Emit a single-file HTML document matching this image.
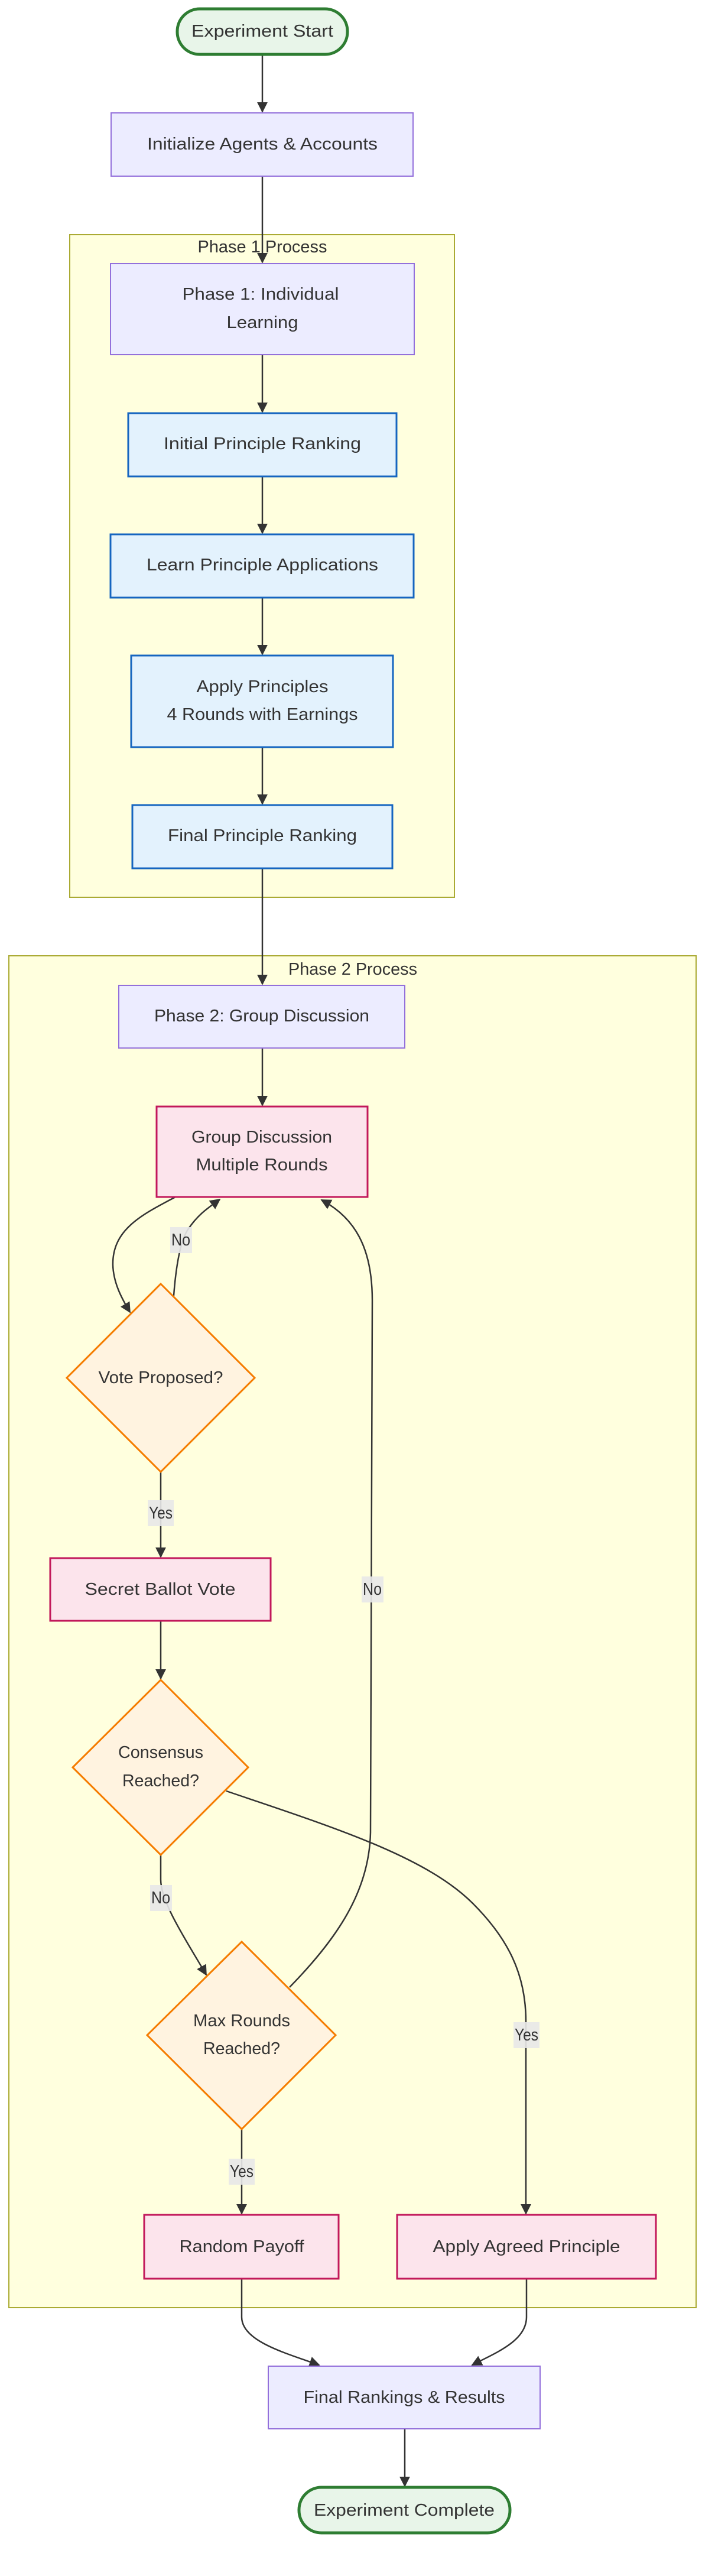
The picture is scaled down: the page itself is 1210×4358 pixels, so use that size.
<!DOCTYPE html>
<html><head><meta charset="utf-8"><style>
html,body{margin:0;padding:0;background:#fff;}
svg{display:block;}
text{font-family:"Liberation Sans",sans-serif;font-size:29px;fill:#333;text-anchor:middle;dominant-baseline:central;}
.e{fill:none;stroke:#333;stroke-width:2.5;}
.lb{fill:#e8e8e8;opacity:0.9;}
</style></head><body>
<svg width="1210" height="4358" viewBox="0 0 1210 4358" xmlns="http://www.w3.org/2000/svg">
<defs>
<marker id="b" viewBox="0 0 10 10" refX="9" refY="5" markerWidth="18" markerHeight="18" markerUnits="userSpaceOnUse" orient="auto">
<path d="M0,0 L10,5 L0,10 z" fill="#333"/></marker>
</defs>

<rect x="118" y="397" width="651" height="1121" fill="#ffffde" stroke="#aaaa33" stroke-width="2"/>
<text x="444" y="418" textLength="219" lengthAdjust="spacingAndGlyphs">Phase 1 Process</text>
<rect x="15" y="1617" width="1163" height="2287" fill="#ffffde" stroke="#aaaa33" stroke-width="2"/>
<text x="597" y="1640" textLength="218" lengthAdjust="spacingAndGlyphs">Phase 2 Process</text>

<g class="e">
<path d="M444,93 L444,189" marker-end="url(#b)"/>
<path d="M444,298 L444,444" marker-end="url(#b)"/>
<path d="M444,600 L444,697" marker-end="url(#b)"/>
<path d="M444,806 L444,902" marker-end="url(#b)"/>
<path d="M444,1011 L444,1107" marker-end="url(#b)"/>
<path d="M444,1264 L444,1360" marker-end="url(#b)"/>
<path d="M444,1469 L444,1665" marker-end="url(#b)"/>
<path d="M444,1773 L444,1870" marker-end="url(#b)"/>
<path d="M297,2025 C240,2055 190,2080 191,2140 C192,2170 205,2195 220,2220" marker-end="url(#b)"/>
<path d="M294,2192 C298,2140 305,2100 318,2080 C335,2055 350,2045 372,2029" marker-end="url(#b)"/>
<path d="M272,2490 L272,2634" marker-end="url(#b)"/>
<path d="M272,2742 L272,2840" marker-end="url(#b)"/>
<path d="M272,3138 L272,3180 C272,3220 320,3290 349,3341" marker-end="url(#b)"/>
<path d="M490,3362 C570,3280 625,3200 627,3100 L630,2200 C630,2110 600,2060 544,2030" marker-end="url(#b)"/>
<path d="M383,3030 C560,3090 720,3140 800,3220 C860,3280 890,3340 890,3420 L890,3745" marker-end="url(#b)"/>
<path d="M409,3602 L409,3745" marker-end="url(#b)"/>
<path d="M409,3855 L409,3920 C409,3960 480,3980 540,4001" marker-end="url(#b)"/>
<path d="M891,3855 L891,3920 C891,3960 840,3980 799,4001" marker-end="url(#b)"/>
<path d="M685,4109 L685,4206" marker-end="url(#b)"/>
</g>

<rect x="300" y="15" width="288" height="77" rx="38" fill="#e8f5e9" stroke="#2e7d32" stroke-width="5"/>
<text x="444" y="53" textLength="240" lengthAdjust="spacingAndGlyphs">Experiment Start</text>

<rect x="188" y="191" width="511" height="107" fill="#ececff" stroke="#9370db" stroke-width="2"/>
<text x="444" y="244" textLength="390" lengthAdjust="spacingAndGlyphs">Initialize Agents &amp; Accounts</text>

<rect x="187" y="446" width="514" height="154" fill="#ececff" stroke="#9370db" stroke-width="2"/>
<text x="441" y="498" textLength="265" lengthAdjust="spacingAndGlyphs">Phase 1: Individual</text>
<text x="444" y="546" textLength="121" lengthAdjust="spacingAndGlyphs">Learning</text>

<rect x="217" y="699" width="454" height="107" fill="#e3f2fd" stroke="#1565c0" stroke-width="3"/>
<text x="444" y="751" textLength="334" lengthAdjust="spacingAndGlyphs">Initial Principle Ranking</text>

<rect x="187" y="904" width="513" height="107" fill="#e3f2fd" stroke="#1565c0" stroke-width="3"/>
<text x="444" y="956" textLength="392" lengthAdjust="spacingAndGlyphs">Learn Principle Applications</text>

<rect x="222" y="1109" width="443" height="155" fill="#e3f2fd" stroke="#1565c0" stroke-width="3"/>
<text x="444" y="1162" textLength="223" lengthAdjust="spacingAndGlyphs">Apply Principles</text>
<text x="444" y="1209" textLength="323" lengthAdjust="spacingAndGlyphs">4 Rounds with Earnings</text>

<rect x="224" y="1362" width="440" height="107" fill="#e3f2fd" stroke="#1565c0" stroke-width="3"/>
<text x="444" y="1414" textLength="320" lengthAdjust="spacingAndGlyphs">Final Principle Ranking</text>

<rect x="201" y="1667" width="484" height="106" fill="#ececff" stroke="#9370db" stroke-width="2"/>
<text x="443" y="1719" textLength="364" lengthAdjust="spacingAndGlyphs">Phase 2: Group Discussion</text>

<rect x="265" y="1872" width="357" height="153" fill="#fce4ec" stroke="#c2185b" stroke-width="3"/>
<text x="443" y="1924" textLength="238" lengthAdjust="spacingAndGlyphs">Group Discussion</text>
<text x="443" y="1971" textLength="223" lengthAdjust="spacingAndGlyphs">Multiple Rounds</text>

<polygon points="272,2172 431,2331 272,2490 113,2331" fill="#fff3e0" stroke="#f57c00" stroke-width="3"/>
<text x="272" y="2331" textLength="211" lengthAdjust="spacingAndGlyphs">Vote Proposed?</text>

<rect x="85" y="2636" width="373" height="106" fill="#fce4ec" stroke="#c2185b" stroke-width="3"/>
<text x="271" y="2689" textLength="255" lengthAdjust="spacingAndGlyphs">Secret Ballot Vote</text>

<polygon points="272,2842 420,2990 272,3138 123,2990" fill="#fff3e0" stroke="#f57c00" stroke-width="3"/>
<text x="272" y="2965" textLength="144" lengthAdjust="spacingAndGlyphs">Consensus</text>
<text x="272" y="3013" textLength="130" lengthAdjust="spacingAndGlyphs">Reached?</text>

<polygon points="409,3285 568,3443 409,3602 249,3443" fill="#fff3e0" stroke="#f57c00" stroke-width="3"/>
<text x="409" y="3419" textLength="164" lengthAdjust="spacingAndGlyphs">Max Rounds</text>
<text x="409" y="3466" textLength="130" lengthAdjust="spacingAndGlyphs">Reached?</text>

<rect x="244" y="3747" width="329" height="108" fill="#fce4ec" stroke="#c2185b" stroke-width="3"/>
<text x="409" y="3801" textLength="211" lengthAdjust="spacingAndGlyphs">Random Payoff</text>

<rect x="672" y="3747" width="438" height="108" fill="#fce4ec" stroke="#c2185b" stroke-width="3"/>
<text x="891" y="3801" textLength="317" lengthAdjust="spacingAndGlyphs">Apply Agreed Principle</text>

<rect x="454" y="4003" width="460" height="106" fill="#ececff" stroke="#9370db" stroke-width="2"/>
<text x="684" y="4056" textLength="341" lengthAdjust="spacingAndGlyphs">Final Rankings &amp; Results</text>

<rect x="506" y="4208" width="357" height="77" rx="38" fill="#e8f5e9" stroke="#2e7d32" stroke-width="5"/>
<text x="684" y="4247" textLength="306" lengthAdjust="spacingAndGlyphs">Experiment Complete</text>

<rect class="lb" x="288" y="2076" width="37" height="44"/>
<text x="306" y="2098" textLength="32" lengthAdjust="spacingAndGlyphs">No</text>
<rect class="lb" x="250" y="2538" width="44" height="44"/>
<text x="272" y="2560" textLength="40" lengthAdjust="spacingAndGlyphs">Yes</text>
<rect class="lb" x="612" y="2667" width="37" height="44"/>
<text x="630" y="2689" textLength="32" lengthAdjust="spacingAndGlyphs">No</text>
<rect class="lb" x="254" y="3189" width="37" height="44"/>
<text x="272" y="3211" textLength="32" lengthAdjust="spacingAndGlyphs">No</text>
<rect class="lb" x="869" y="3421" width="44" height="44"/>
<text x="891" y="3443" textLength="40" lengthAdjust="spacingAndGlyphs">Yes</text>
<rect class="lb" x="387" y="3652" width="44" height="44"/>
<text x="409" y="3674" textLength="40" lengthAdjust="spacingAndGlyphs">Yes</text>
</svg>
</body></html>
